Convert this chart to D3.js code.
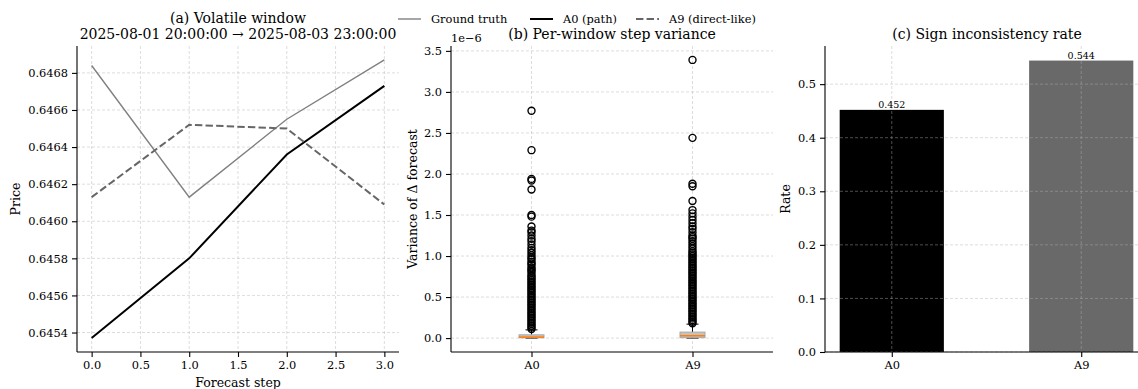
<!DOCTYPE html>
<html>
<head>
<meta charset="utf-8">
<script src="https://cdn.jsdelivr.net/npm/d3@7"></script>
<style>
  body { margin: 0; background: #fff; }
  svg text { font-family: "DejaVu Serif", serif; fill: #000; }
  .tick text { font-size: 11.4px; }
  .grid line { stroke: #b0b0b0; stroke-opacity: 0.55; stroke-dasharray: 3,2; stroke-width: 0.8; }
  .domain { stroke: #000; stroke-width: 1.1; }
  .tick line { stroke: #000; stroke-width: 1.1; }
</style>
</head>
<body>
<div id="chart"></div>
<script>
// panel (a) data
var steps = [0, 1, 2, 3];
var groundTruth = [0.64684, 0.64613, 0.64655, 0.64687];
var a0Path = [0.64537, 0.64580, 0.64636, 0.64673];
var a9Direct = [0.64613, 0.64652, 0.64650, 0.64609];
var priceTicks = [0.6454, 0.6456, 0.6458, 0.6460, 0.6462, 0.6464, 0.6466, 0.6468];
var stepTicks = [0, 0.5, 1, 1.5, 2, 2.5, 3];

// panel (b) data, units of 1e-6
var boxModels = ['A0', 'A9'];
var boxQ1 = [0.004, 0.005];
var boxMedian = [0.012, 0.029];
var boxQ3 = [0.040, 0.073];
var boxWhiskLo = [0.0, 0.0];
var boxWhiskHi = [0.10, 0.17];
var fliersA0 = [2.77, 2.29, 1.94, 1.92, 1.81, 1.50, 1.48, 1.36, 1.31, 1.29, 1.25, 1.21, 1.18, 1.14, 1.10, 1.07, 1.04, 1.01,
  0.98, 0.96, 0.93, 0.91, 0.89, 0.86, 0.84, 0.82, 0.80, 0.77, 0.75, 0.73, 0.71, 0.69, 0.67, 0.65, 0.63, 0.61, 0.59,
  0.57, 0.55, 0.53, 0.51, 0.49, 0.47, 0.45, 0.43, 0.41, 0.39, 0.37, 0.35, 0.33, 0.31, 0.29, 0.27, 0.25, 0.23, 0.21,
  0.19, 0.17, 0.15, 0.13, 0.11];
var fliersA9 = [3.39, 2.44, 1.88, 1.85, 1.67, 1.56, 1.52, 1.48, 1.44, 1.40, 1.36, 1.33, 1.29, 1.25, 1.23, 1.21, 1.18,
  1.15, 1.12, 1.09, 1.06, 1.04, 1.02, 1.00, 0.98, 0.96, 0.94, 0.92, 0.90, 0.88, 0.86, 0.84, 0.82, 0.80, 0.78, 0.76,
  0.74, 0.72, 0.70, 0.68, 0.66, 0.64, 0.62, 0.60, 0.58, 0.56, 0.54, 0.52, 0.50, 0.48, 0.46, 0.44, 0.42, 0.40, 0.38,
  0.36, 0.34, 0.32, 0.30, 0.28, 0.26, 0.24, 0.22, 0.20, 0.18];
var varTicks = [0, 0.5, 1, 1.5, 2, 2.5, 3, 3.5];

// panel (c) data
var rateModels = ['A0', 'A9'];
var rates = [0.452, 0.544];
var rateColors = ['#000000', '#696969'];
var rateTicks = [0, 0.1, 0.2, 0.3, 0.4, 0.5];

var W = 1138, H = 389;
var plotTop = 46, plotBottom = 352;

var svg = d3.select('#chart').append('svg')
  .attr('width', W).attr('height', H);

function addGrid(g, xs, x, ys, y) {
  var grid = g.append('g').attr('class', 'grid');
  grid.selectAll('.gx').data(xs).enter().append('line')
    .attr('x1', function(d){ return x(d); }).attr('x2', function(d){ return x(d); })
    .attr('y1', plotTop).attr('y2', plotBottom);
  grid.selectAll('.gy').data(ys).enter().append('line')
    .attr('x1', x.range()[0]).attr('x2', x.range()[1])
    .attr('y1', function(d){ return y(d); }).attr('y2', function(d){ return y(d); });
  return grid;
}

function addAxes(x, y, xTickVals, xFmt, yTickVals, yFmt) {
  var xa = svg.append('g')
    .attr('transform', 'translate(0,' + plotBottom + ')')
    .call(d3.axisBottom(x).tickValues(xTickVals).tickFormat(xFmt).tickSizeOuter(0).tickSize(5).tickPadding(4));
  var ya = svg.append('g')
    .attr('transform', 'translate(' + x.range()[0] + ',0)')
    .call(d3.axisLeft(y).tickValues(yTickVals).tickFormat(yFmt).tickSizeOuter(0).tickSize(5).tickPadding(4));
  // stretch spines over the whole axes box
  xa.select('.domain').attr('d', 'M' + x.range()[0] + ',0H' + x.range()[1]);
  ya.select('.domain').attr('d', 'M0,' + plotTop + 'V' + plotBottom);
}

// ---------- (a) volatile window ----------
function panelA() {
  var x = d3.scaleLinear().domain([-0.15, 3.15]).range([77, 399]);
  var y = d3.scaleLinear().domain([0.645295, 0.646945]).range([plotBottom, plotTop]);
  addGrid(svg, stepTicks, x, priceTicks, y);

  var line = d3.line()
    .x(function(d, i){ return x(steps[i]); })
    .y(function(d){ return y(d); });

  svg.append('path').datum(groundTruth).attr('d', line)
    .attr('fill', 'none').attr('stroke', '#808080').attr('stroke-width', 1.4);
  svg.append('path').datum(a0Path).attr('d', line)
    .attr('fill', 'none').attr('stroke', '#000').attr('stroke-width', 2);
  svg.append('path').datum(a9Direct).attr('d', line)
    .attr('fill', 'none').attr('stroke', '#666').attr('stroke-width', 2)
    .attr('stroke-dasharray', '7.4,3.2');

  addAxes(x, y, stepTicks, d3.format('.1f'), priceTicks, d3.format('.4f'));

  svg.append('text').attr('x', 238).attr('y', 23).attr('text-anchor', 'middle')
    .style('font-size', '14px').text('(a) Volatile window');
  svg.append('text').attr('x', 238).attr('y', 39).attr('text-anchor', 'middle')
    .style('font-size', '14px').text('2025-08-01 20:00:00 \u2192 2025-08-03 23:00:00');
  svg.append('text').attr('x', 238).attr('y', 387).attr('text-anchor', 'middle')
    .style('font-size', '12.5px').text('Forecast step');
  svg.append('text').attr('transform', 'translate(20,199) rotate(-90)')
    .attr('text-anchor', 'middle').style('font-size', '12.5px').text('Price');
}

// ---------- (b) per-window step variance ----------
function panelB() {
  var x = d3.scaleLinear().domain([0.5, 2.5]).range([451, 773]);
  var y = d3.scaleLinear().domain([-0.1695, 3.5595]).range([plotBottom, plotTop]);
  addGrid(svg, [1, 2], x, varTicks, y);

  var halfW = 12.5;
  boxModels.forEach(function(m, i) {
    var cx = x(i + 1);
    var g = svg.append('g');
    // whiskers and caps
    g.append('line').attr('x1', cx).attr('x2', cx)
      .attr('y1', y(boxQ3[i])).attr('y2', y(boxWhiskHi[i])).attr('stroke', '#000');
    g.append('line').attr('x1', cx - 6).attr('x2', cx + 6)
      .attr('y1', y(boxWhiskHi[i])).attr('y2', y(boxWhiskHi[i])).attr('stroke', '#000');
    g.append('line').attr('x1', cx - 6).attr('x2', cx + 6)
      .attr('y1', y(boxWhiskLo[i])).attr('y2', y(boxWhiskLo[i])).attr('stroke', '#000');
    // box
    g.append('rect').attr('x', cx - halfW).attr('width', halfW * 2)
      .attr('y', y(boxQ3[i])).attr('height', y(boxQ1[i]) - y(boxQ3[i]))
      .attr('fill', '#c4c4c4').attr('stroke', '#a8a8a8').attr('stroke-width', 1);
    // outliers
    var fl = i == 0 ? fliersA0 : fliersA9;
    g.selectAll('circle').data(fl).enter().append('circle')
      .attr('cx', cx).attr('cy', function(d){ return y(d); })
      .attr('r', 3.5).attr('fill', 'none').attr('stroke', '#000').attr('stroke-width', 1.4);
    // median
    g.append('line').attr('x1', cx - halfW).attr('x2', cx + halfW)
      .attr('y1', y(boxMedian[i])).attr('y2', y(boxMedian[i]))
      .attr('stroke', '#ff7f0e').attr('stroke-width', 1.6);
  });

  addAxes(x, y, [1, 2], function(d){ return boxModels[d - 1]; }, varTicks, d3.format('.1f'));

  svg.append('text').attr('x', 612).attr('y', 39).attr('text-anchor', 'middle')
    .style('font-size', '14px').text('(b) Per-window step variance');
  svg.append('text').attr('x', 451).attr('y', 42).style('font-size', '11.4px').text('1e\u22126');
  svg.append('text').attr('transform', 'translate(417,199) rotate(-90)')
    .attr('text-anchor', 'middle').style('font-size', '12.5px').text('Variance of \u0394 forecast');
}

// ---------- (c) sign inconsistency rate ----------
function panelC() {
  var x = d3.scaleLinear().domain([-0.3525, 1.3525]).range([825, 1148]);
  var y = d3.scaleLinear().domain([0, 0.5712]).range([plotBottom, plotTop]);
  var bw = 0.55;

  svg.selectAll('.bar').data(rates).enter().append('rect')
    .attr('class', 'bar')
    .attr('x', function(d, i){ return x(i - bw / 2); })
    .attr('width', x(bw) - x(0))
    .attr('y', function(d){ return y(d); })
    .attr('height', function(d){ return y(0) - y(d); })
    .attr('fill', function(d, i){ return rateColors[i]; });

  addGrid(svg, [0, 1], x, rateTicks, y);

  svg.selectAll('.barlab').data(rates).enter().append('text')
    .attr('class', 'barlab')
    .attr('x', function(d, i){ return x(i); })
    .attr('y', function(d){ return y(d) - 2; })
    .attr('text-anchor', 'middle').style('font-size', '9.5px')
    .text(function(d){ return d3.format('.3f')(d); });

  addAxes(x, y, [0, 1], function(d){ return rateModels[d]; }, rateTicks, d3.format('.1f'));

  svg.append('text').attr('x', 987).attr('y', 39).attr('text-anchor', 'middle')
    .style('font-size', '14px').text('(c) Sign inconsistency rate');
  svg.append('text').attr('transform', 'translate(790,199) rotate(-90)')
    .attr('text-anchor', 'middle').style('font-size', '12.5px').text('Rate');
}

// ---------- legend ----------
function legend() {
  var items = [
    {label: 'Ground truth', x: 398, color: '#808080', w: 1.4, dash: null},
    {label: 'A0 (path)', x: 530, color: '#000', w: 2, dash: null},
    {label: 'A9 (direct-like)', x: 636, color: '#666', w: 2, dash: '7.4,3.2'}
  ];
  var g = svg.append('g');
  items.forEach(function(it) {
    var l = g.append('line').attr('x1', it.x).attr('x2', it.x + 23)
      .attr('y1', 19).attr('y2', 19)
      .attr('stroke', it.color).attr('stroke-width', it.w);
    if (it.dash) l.attr('stroke-dasharray', it.dash);
    g.append('text').attr('x', it.x + 33).attr('y', 23)
      .style('font-size', '11.4px').text(it.label);
  });
}

panelA();
panelB();
panelC();
legend();
</script>
</body>
</html>
